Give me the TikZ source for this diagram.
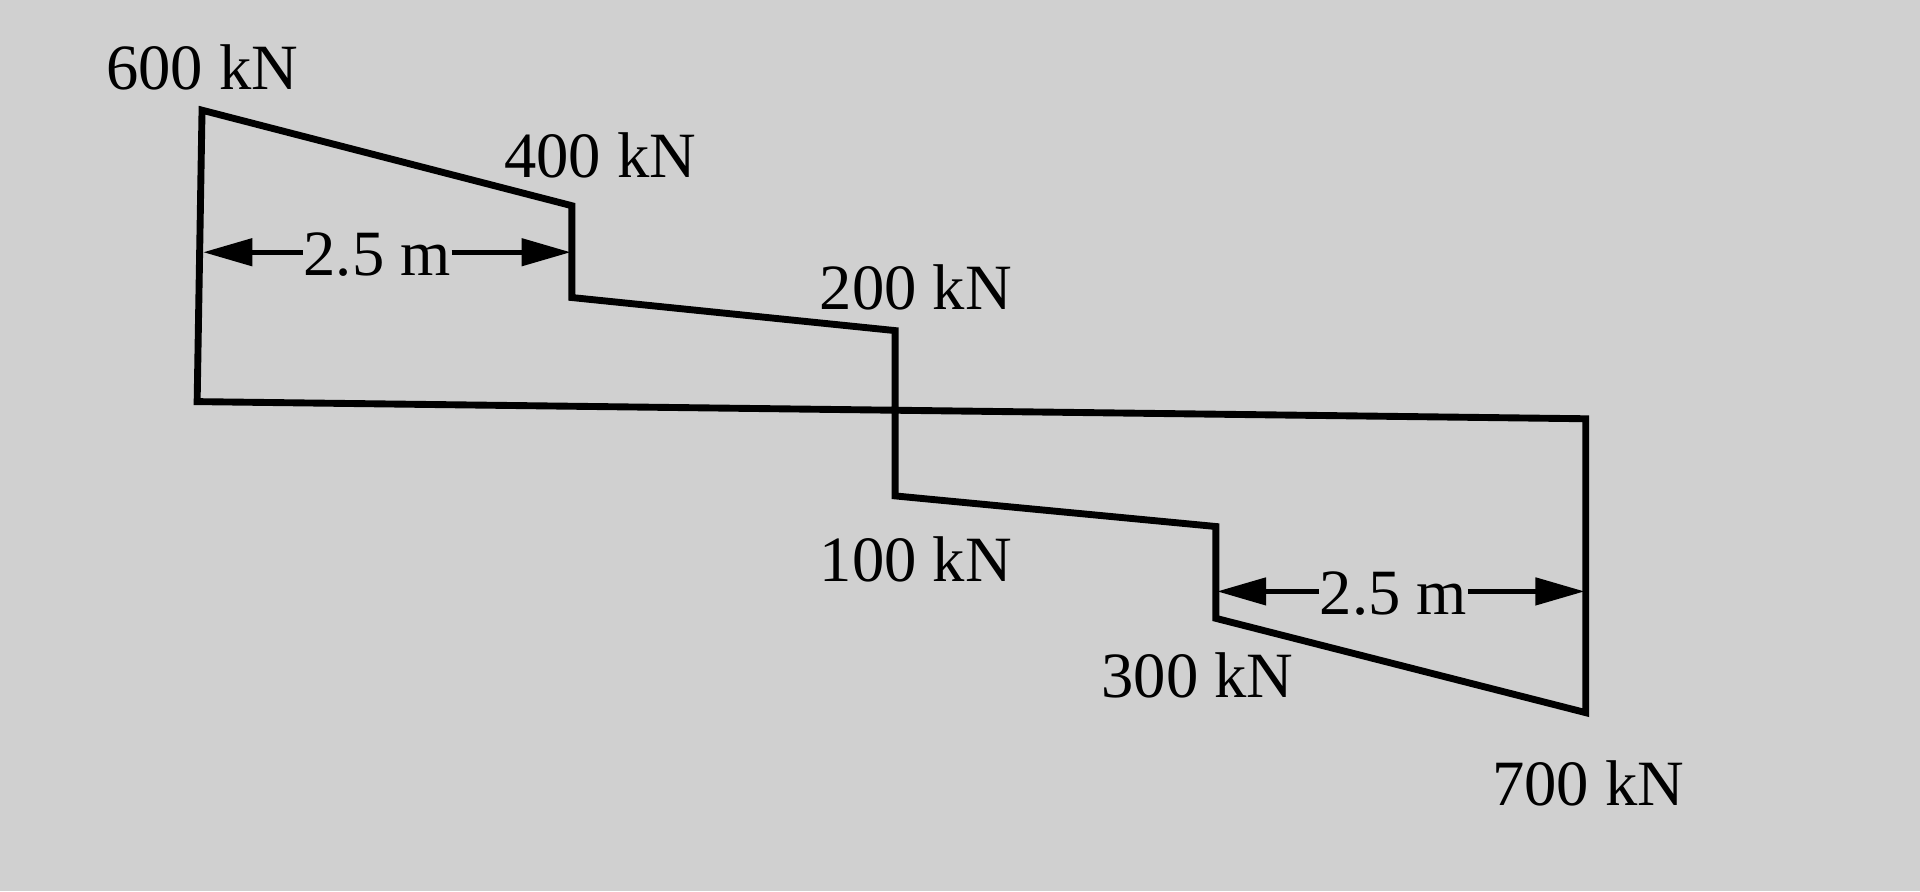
\documentclass[tikz,border=0pt]{standalone}
\usepackage{fontspec}
\setmainfont{Liberation Serif}
\usetikzlibrary{arrows.meta}
\definecolor{bg}{RGB}{208,208,208}
\begin{document}
\begin{tikzpicture}[x=0.01cm,y=-0.01cm,
  shear/.style={line width=1.6pt, line join=miter},
  lbl/.style={font=\fontsize{15}{18}\selectfont, inner sep=1pt},
  dimtxt/.style={font=\fontsize{15}{18}\selectfont, inner sep=0pt, fill=bg},
  dimarrow/.style={line width=1.1pt, -{Triangle[length=0.4cm,width=0.22cm]}}]
\fill[bg] (0,0) rectangle (1568,728);
\useasboundingbox (0,0) rectangle (1568,728);
% vertices
\coordinate (A) at (165,90);
\coordinate (B) at (467,168);
\coordinate (C) at (467,243);
\coordinate (D) at (731,270);
\coordinate (E) at (731,405);
\coordinate (F) at (993,430);
\coordinate (G) at (993,505);
\coordinate (H) at (1295,582);
\coordinate (I) at (1295,342);
\coordinate (J) at (161,328);
\draw[shear] (A) -- (B) -- (C) -- (D) -- (E) -- (F) -- (G) -- (H) -- (I) -- (J) -- cycle;
% labels
\node[lbl] (l600) at (165,55) {600 kN};
\node[lbl] (l400) at (490,127) {400 kN};
\node[lbl] (l200) at (748,235) {200 kN};
\node[lbl] (l100) at (748,457) {100 kN};
\node[lbl] (l300) at (978,552) {300 kN};
\node[lbl] (l700) at (1297,640) {700 kN};
% dimensions
\coordinate (d1l) at (166,206);
\coordinate (d1r) at (466,206);
\node[dimtxt] (d1) at (308,208) {2.5 m};
\draw[dimarrow] (d1.west |- d1l) -- (d1l);
\draw[dimarrow] (d1.east |- d1r) -- (d1r);
\coordinate (d2l) at (994,483);
\coordinate (d2r) at (1294,483);
\node[dimtxt] (d2) at (1138,485) {2.5 m};
\draw[dimarrow] (d2.west |- d2l) -- (d2l);
\draw[dimarrow] (d2.east |- d2r) -- (d2r);
\end{tikzpicture}
\end{document}
